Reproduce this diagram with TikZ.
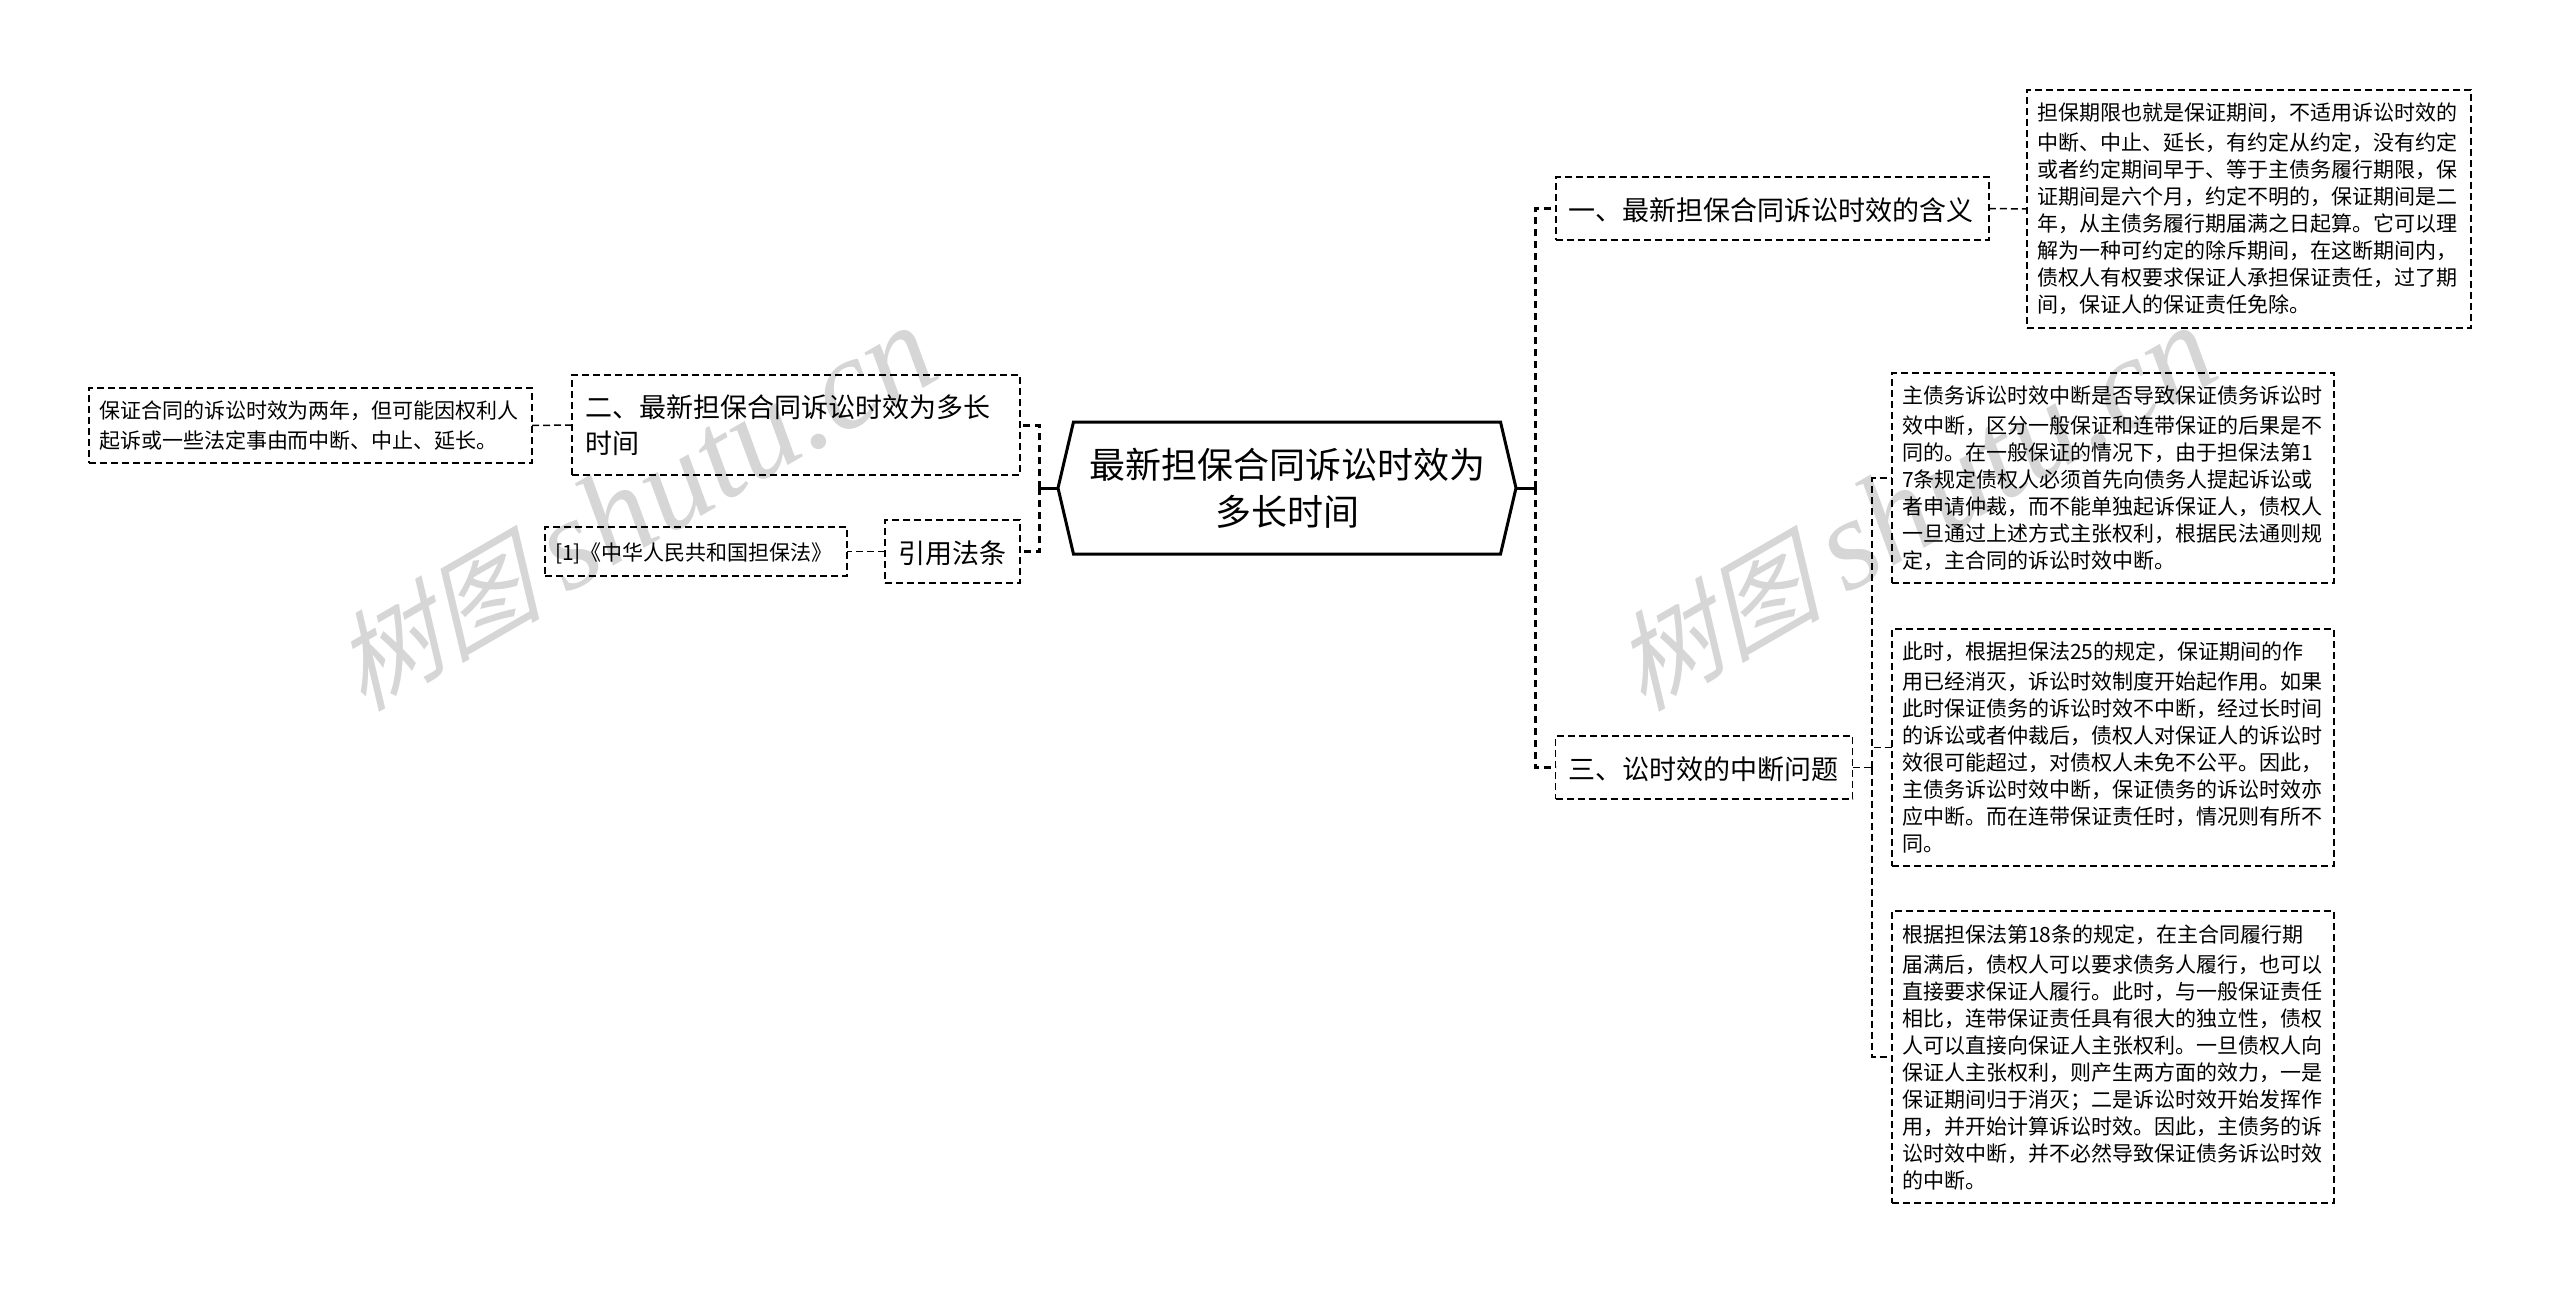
\documentclass[tikz,border=0pt]{standalone}
\usepackage{fontspec}
\usetikzlibrary{shapes.symbols}
\setmainfont{Noto Sans CJK SC}
\newfontfamily\markcjk[FakeSlant=0.3]{Noto Sans CJK SC}
\newfontfamily\marklatin{Liberation Serif}
\newcommand{\lowline}[1]{\raisebox{-2pt}[\height][\depth]{#1}}
\tikzset{
	rootbox/.style={shape=signal, signal to=east and west, signal pointer angle=153.6, draw=black, line width=3, minimum width=458, minimum height=132, align=center, font=\fontsize{36}{47}\selectfont},
	branchbox/.style={rectangle, draw=black, line width=1.5, dash pattern=on 7pt off 4pt, inner xsep=13, align=left, font=\fontsize{27}{36}\selectfont},
	detailbox/.style={rectangle, draw=black, line width=1.5, dash pattern=on 7pt off 4pt, inner xsep=10, align=left, font=\fontsize{21}{27}\selectfont},
	mainlink/.style={draw=black, line width=3, dash pattern=on 7pt off 5pt},
	sublink/.style={draw=black, line width=1.5, dash pattern=on 7pt off 4pt},
	rootstub/.style={draw=black, line width=3},
	watermark/.style={anchor=base west, rotate=30, text=black!16, inner sep=0pt}
}
\begin{document}
\begin{tikzpicture}[x=1pt, y=-1pt, inner sep=0pt, outer sep=0pt]
\useasboundingbox (0,0) rectangle (2560,1293);
% watermark
\foreach \markx in {362,1642} {
	\node[watermark] at (\markx,712) {\markcjk\fontsize{106}{106}\selectfont 树图 \marklatin\itshape\fontsize{130}{130}\selectfont shutu.cn};
}
% root
\node[rootbox] (root) at (1287,488) {最新担保合同诉讼时效为\\多长时间};
% right side
\node[branchbox, text width=407, minimum height=63] (yi) at (1772.25,208.5) {\lowline{一、最新担保合同诉讼时效的含义}};
\node[branchbox, text width=271, minimum height=63] (san) at (1704,767.5) {\lowline{三、讼时效的中断问题}};
\node[detailbox, text width=424, minimum height=238] (qixian) at (2249,209) {\vspace{3pt}担保期限也就是保证期间，不适用诉讼时效的\\中断、中止、延长，有约定从约定，没有约定\\或者约定期间早于、等于主债务履行期限，保\\证期间是六个月，约定不明的，保证期间是二\\年，从主债务履行期届满之日起算。它可以理\\解为一种可约定的除斥期间，在这断期间内，\\债权人有权要求保证人承担保证责任，过了期\\间，保证人的保证责任免除。};
\node[detailbox, text width=422, minimum height=210] (zhaiwu) at (2113,478) {\vspace{3pt}主债务诉讼时效中断是否导致保证债务诉讼时\\效中断，区分一般保证和连带保证的后果是不\\同的。在一般保证的情况下，由于担保法第1\\7条规定债权人必须首先向债务人提起诉讼或\\者申请仲裁，而不能单独起诉保证人，债权人\\一旦通过上述方式主张权利，根据民法通则规\\定，主合同的诉讼时效中断。};
\node[detailbox, text width=422, minimum height=237] (cishi) at (2113,747.5) {\vspace{3pt}此时，根据担保法25的规定，保证期间的作\\用已经消灭，诉讼时效制度开始起作用。如果\\此时保证债务的诉讼时效不中断，经过长时间\\的诉讼或者仲裁后，债权人对保证人的诉讼时\\效很可能超过，对债权人未免不公平。因此，\\主债务诉讼时效中断，保证债务的诉讼时效亦\\应中断。而在连带保证责任时，情况则有所不\\同。};
\node[detailbox, text width=422, minimum height=292] (genju) at (2113,1057) {\vspace{3pt}根据担保法第18条的规定，在主合同履行期\\届满后，债权人可以要求债务人履行，也可以\\直接要求保证人履行。此时，与一般保证责任\\相比，连带保证责任具有很大的独立性，债权\\人可以直接向保证人主张权利。一旦债权人向\\保证人主张权利，则产生两方面的效力，一是\\保证期间归于消灭；二是诉讼时效开始发挥作\\用，并开始计算诉讼时效。因此，主债务的诉\\讼时效中断，并不必然导致保证债务诉讼时效\\的中断。};
% left side
\node[branchbox, text width=422, minimum height=100] (er) at (796,425) {二、最新担保合同诉讼时效为多长\\时间};
\node[branchbox, text width=109, minimum height=63] (yinyong) at (952.5,551.5) {\lowline{引用法条}};
\node[detailbox, text width=423, minimum height=75] (baozheng) at (310.5,425.5) {\vspace{3pt}保证合同的诉讼时效为两年，但可能因权利人\\起诉或一些法定事由而中断、中止、延长。};
\node[detailbox, text width=282, minimum height=49] (fatiao) at (696,551.5) {\lowline{[1]《中华人民共和国担保法》}};
% connectors
\coordinate (rtrunk) at (1535,488);
\coordinate (ltrunk) at (1039,488);
\coordinate (strunk) at (1872,767.5);
\draw[mainlink] (rtrunk) |- (yi.west);
\draw[mainlink] (rtrunk) |- (san.west);
\draw[mainlink] (ltrunk) |- (er.east);
\draw[mainlink] (ltrunk) |- (yinyong.east);
\draw[rootstub] (root.east) -- (rtrunk);
\draw[rootstub] (root.west) -- (ltrunk);
\draw[sublink] (yi.east) -- (qixian.west);
\draw[sublink] (san.east) -- (strunk);
\draw[sublink] (strunk) |- (zhaiwu.west);
\draw[sublink] (strunk) |- (cishi.west);
\draw[sublink] (strunk) |- (genju.west);
\draw[sublink] (er.west) -- (baozheng.east);
\draw[sublink] (yinyong.west) -- (fatiao.east);
\end{tikzpicture}
\end{document}
